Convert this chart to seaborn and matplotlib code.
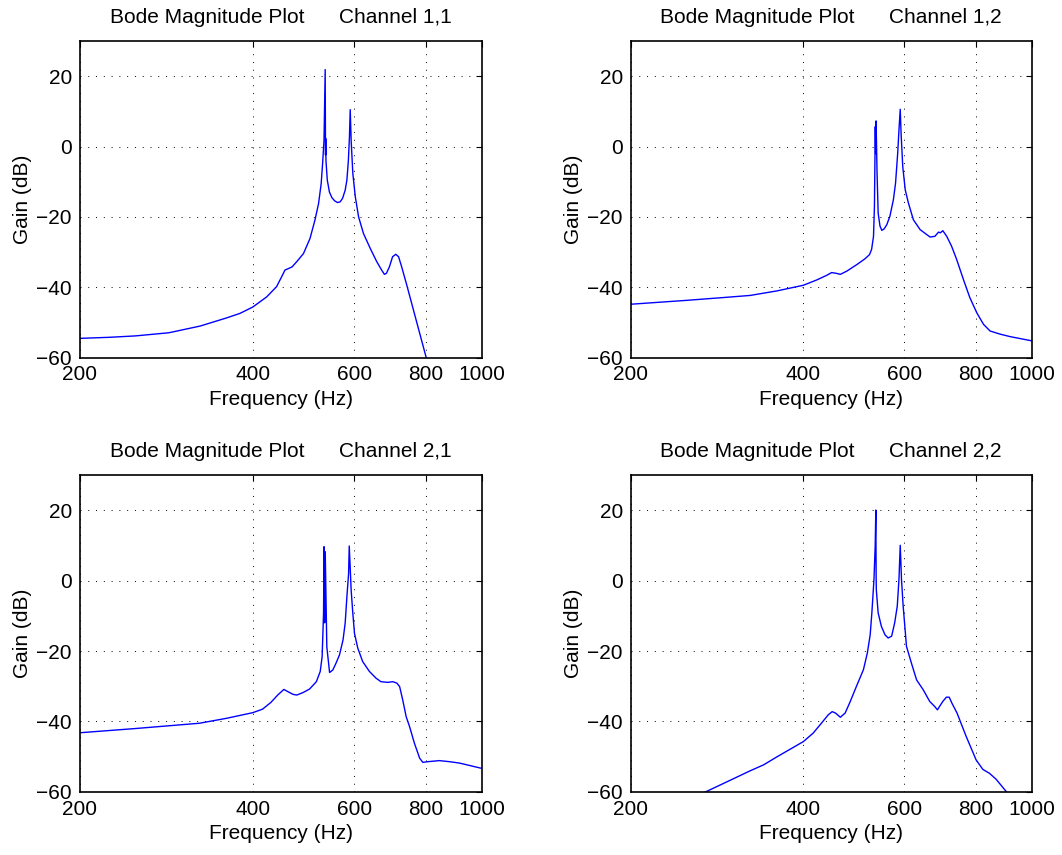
import numpy as np
import pandas as pd
import matplotlib
matplotlib.use('Agg')
import matplotlib.pyplot as plt
from matplotlib.ticker import NullLocator
import seaborn as sns

# Bode magnitude data (frequency in Hz, gain in dB)
freq_11 = [200, 225, 250, 286, 324, 360, 380, 400, 423, 440,
           449, 455, 468, 477, 490, 503, 513, 520.5, 526, 529,
           532, 534.5, 535.2, 535.6, 536.2, 539, 543.6, 549, 555, 561.6,
           567.5, 573, 579, 583, 586.5, 589, 590.8, 593, 597, 603,
           611, 623, 640, 657, 670, 677.5, 683, 691, 700, 709,
           717, 726, 741, 800, 860]
gain_11 = [-54.5, -54.2, -53.8, -52.9, -51, -48.7, -47.4, -45.6, -42.7, -39.8,
           -37, -35.1, -34.2, -32.7, -30.4, -26.1, -20.9, -16.2, -10.5, -4.8,
           1.8, 21.9, -2.4, 2.3, -4, -9.5, -12.9, -14.5, -15.4, -15.9,
           -15.7, -14.7, -12.4, -9.5, -3.9, 2.8, 10.5, 1.8, -7.6, -14.3,
           -20, -24.7, -28.9, -32.7, -35.1, -36.3, -36, -34.2, -31.3, -30.6,
           -31.3, -34.2, -39.4, -59.7, -78]

freq_12 = [200, 250, 290, 323, 360, 400, 422, 439, 448, 456,
           464, 476, 496, 512, 521.6, 526, 530, 532, 533.8, 534.6,
           535.5, 537.6, 540, 544, 548, 553, 559, 566, 574, 579,
           584, 587, 590, 592, 596, 602, 609.6, 622, 639, 665,
           678, 688, 693, 700, 711, 725, 740, 760, 780, 802,
           824, 846, 881, 917, 1000]
gain_12 = [-44.8, -43.7, -42.9, -42.3, -41, -39.4, -37.9, -36.6, -35.8, -36,
           -36.3, -35.4, -33.5, -31.9, -30.7, -29.2, -25.5, -17, 5.7, -2,
           7.3, -7.5, -18.9, -22.6, -23.8, -23.4, -22.2, -19.8, -15.1, -10.4,
           -1.9, 4.7, 10.6, 3.8, -5.7, -12.3, -16, -20.8, -23.6, -25.7,
           -25.5, -24.3, -24.5, -23.9, -25.5, -28.3, -32.1, -37.7, -42.9, -47.2,
           -50.5, -52.4, -53.3, -54, -55.2]

freq_21 = [200, 250, 323, 360, 400, 416, 430, 442, 453, 460,
           470, 477, 489, 502, 516, 524, 528, 531, 532, 533.3,
           534.6, 538, 544, 551, 558, 566, 574, 579, 583, 587,
           588.5, 591, 593, 597, 601, 609, 621, 638, 655, 668,
           687, 700, 712, 720, 729, 739, 749, 764, 780, 790,
           806, 844, 879, 915, 1000]
gain_21 = [-43.2, -42, -40.5, -39.1, -37.5, -36.5, -34.6, -32.5, -30.9, -31.5,
           -32.3, -32.5, -31.8, -30.8, -28.7, -25.8, -21.6, -9.3, 9.6, -12,
           8.2, -18.8, -26.1, -25.4, -23.5, -21.1, -16.9, -12.1, -4.6, 2,
           9.8, 3, -2.7, -9.3, -15, -19.2, -23, -25.8, -27.7, -28.7,
           -28.9, -28.7, -29.1, -30.1, -33.9, -38.6, -41.4, -46.2, -50.4, -51.6,
           -51.4, -51.1, -51.4, -51.8, -53.3]

freq_22 = [200, 250, 270, 323, 341, 360, 379, 400, 416, 430,
           442, 449, 455, 464, 473, 482, 495, 509, 517, 523,
           526.5, 531, 533.6, 535, 535.6, 536, 540, 547, 555, 562,
           570, 577, 583, 587, 590, 593, 597, 605, 617, 630,
           647, 664, 678, 685, 691, 700, 710, 718, 727, 741,
           769, 800, 822, 844, 867, 903, 960]
gain_22 = [-69, -62.5, -60, -54, -52.3, -50, -47.9, -45.7, -43.3, -40.5,
           -38.1, -37.2, -37.6, -38.8, -37.6, -34.6, -30, -25.3, -20.6, -15.4,
           -9.2, 0.3, 9.8, 20, 1.7, -2.6, -9.2, -13, -15.4, -16.3,
           -15.8, -12, -7.3, 0.3, 10, 0.3, -7.3, -18.7, -23.4, -28.2,
           -31, -34.3, -35.8, -36.7, -35.7, -34.3, -33.1, -33.1, -35, -37.6,
           -44.3, -50.9, -53.6, -54.7, -56.4, -59.9, -64]

channels = ['1,1', '1,2', '2,1', '2,2']
x_ticks = [200, 400, 600, 800, 1000]
y_ticks = [-60, -40, -20, 0, 20]

sns.set_style('white')
plt.rcParams['font.family'] = ['Liberation Sans', 'DejaVu Sans']
plt.rcParams['text.color'] = 'black'
plt.rcParams['axes.labelcolor'] = 'black'
plt.rcParams['xtick.color'] = 'black'
plt.rcParams['ytick.color'] = 'black'
fs = 15

fig = plt.figure(figsize=(10.62, 8.55), dpi=100)

# axes boxes in figure fractions [left, bottom, width, height]
boxes = [[0.0749, 0.5816, 0.3787, 0.3704],
         [0.5938, 0.5816, 0.3777, 0.3704],
         [0.0749, 0.0737, 0.3787, 0.3710],
         [0.5938, 0.0737, 0.3777, 0.3710]]
data = [(freq_11, gain_11), (freq_12, gain_12),
        (freq_21, gain_21), (freq_22, gain_22)]

for box, (f, g), ch in zip(boxes, data, channels):
    ax = fig.add_axes(box)
    df = pd.DataFrame({'Frequency': f, 'Gain': g})
    sns.lineplot(data=df, x='Frequency', y='Gain', ax=ax, color='blue',
                 lw=1.0, estimator=None, sort=False)
    ax.set_xscale('log')
    ax.set_xlim(200, 1000)
    ax.set_ylim(-60, 30)
    ax.set_xticks(x_ticks)
    ax.set_xticklabels([str(t) for t in x_ticks])
    ax.xaxis.set_minor_locator(NullLocator())
    ax.set_yticks(y_ticks)
    ax.grid(True, which='major', color='black', linestyle=(0, (1, 7)), lw=0.7)
    ax.tick_params(direction='in', length=4, width=0.8, top=True, right=True,
                   labelsize=fs, pad=5.5)
    for s in ax.spines.values():
        s.set_color('black')
        s.set_linewidth(1.2)
    ax.set_xlabel('Frequency (Hz)', fontsize=fs, labelpad=4)
    ax.set_ylabel('Gain (dB)', fontsize=fs, labelpad=3)
    ax.set_title('Bode Magnitude Plot      Channel ' + ch, fontsize=fs, pad=13)

fig.savefig('out.png', dpi=100)
